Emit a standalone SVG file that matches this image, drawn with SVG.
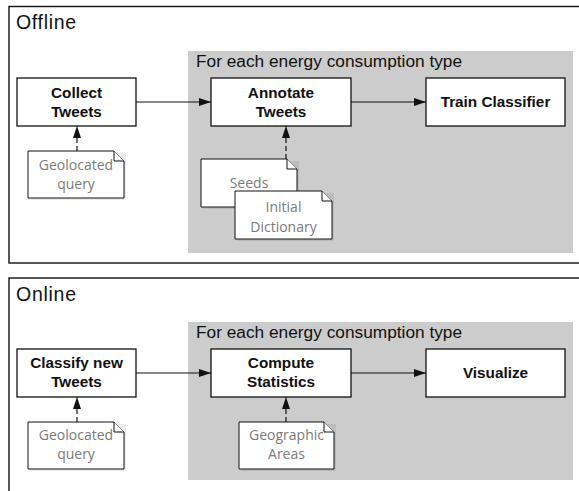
<svg xmlns="http://www.w3.org/2000/svg" width="579" height="491" viewBox="0 0 579 491">
<defs>
<style>
.panel{fill:#fff;stroke:#111;stroke-width:1.4}
.region{fill:#cccccc;stroke:none}
.ptitle{font-family:"Liberation Sans",Arial,sans-serif;font-size:19.5px;fill:#111}
.rtitle{font-family:"Liberation Sans",Arial,sans-serif;font-size:17.3px;fill:#111}
.box{fill:#fff;stroke:#111;stroke-width:1.3}
.lbl{font-family:"Liberation Sans",Arial,sans-serif;font-size:15.3px;font-weight:bold;fill:#111;text-anchor:middle}
.note{fill:#fff;stroke:#111;stroke-width:1}
.shadow{fill:#000;opacity:0.08;stroke:none}
.ntxt{font-family:"Open Sans",sans-serif;font-size:14px;fill:#7a7a7a;text-anchor:middle}
.edge{stroke:#111;stroke-width:1.2;fill:none}
.dash{stroke:#111;stroke-width:1.2;fill:none;stroke-dasharray:5,3}
</style>
<marker id="ah" viewBox="0 0 12 8" refX="12" refY="4" markerWidth="12" markerHeight="8" markerUnits="userSpaceOnUse" orient="auto">
<path d="M0,0 L12,4 L0,8 Z" fill="#111"/>
</marker>
</defs>

<g id="offline-panel">
<rect class="panel" x="9" y="6.5" width="580" height="256.5"/>
<text class="ptitle" x="16" y="29" textLength="60">Offline</text>
</g>
<g id="offline-region">
<rect class="region" x="188" y="51" width="385" height="202"/>
<text class="rtitle" x="196" y="67">For each energy consumption type</text>
</g>

<g id="online-panel">
<rect class="panel" x="9" y="278" width="580" height="220"/>
<text class="ptitle" x="16" y="301" textLength="60">Online</text>
</g>
<g id="online-region">
<rect class="region" x="188" y="322" width="385" height="158"/>
<text class="rtitle" x="196" y="338">For each energy consumption type</text>
</g>

<g id="connectors">
<line class="edge" x1="136" y1="102" x2="211" y2="102" marker-end="url(#ah)"/>
<line class="edge" x1="351" y1="102" x2="426" y2="102" marker-end="url(#ah)"/>
<line class="dash" x1="77" y1="151" x2="77" y2="126" marker-end="url(#ah)"/>
<line class="dash" x1="286" y1="159" x2="286" y2="126" marker-end="url(#ah)"/>
<line class="edge" x1="136" y1="373" x2="211" y2="373" marker-end="url(#ah)"/>
<line class="edge" x1="351" y1="373" x2="426" y2="373" marker-end="url(#ah)"/>
<line class="dash" x1="77" y1="422" x2="77" y2="397" marker-end="url(#ah)"/>
<line class="dash" x1="286" y1="422" x2="286" y2="397" marker-end="url(#ah)"/>
</g>

<g id="collect-tweets">
<rect class="box" x="17" y="78" width="119" height="48"/>
<text class="lbl" x="76.5" y="98">Collect</text>
<text class="lbl" x="76.5" y="117">Tweets</text>
</g>
<g id="annotate-tweets">
<rect class="box" x="211" y="78" width="140" height="48"/>
<text class="lbl" x="281" y="98">Annotate</text>
<text class="lbl" x="281" y="117">Tweets</text>
</g>
<g id="train-classifier">
<rect class="box" x="426" y="78" width="139" height="48"/>
<text class="lbl" x="495.5" y="107">Train Classifier</text>
</g>

<g id="geo-query-1">
<rect class="shadow" x="30" y="153" width="96" height="47"/>
<path class="note" d="M28,151 H114 L124,161 V198 H28 Z"/>
<path class="note" d="M114,151 V161 H124"/>
<text class="ntxt" x="76" y="170">Geolocated</text>
<text class="ntxt" x="76" y="189">query</text>
</g>
<g id="seeds">
<rect class="shadow" x="203" y="161" width="96" height="48"/>
<path class="note" d="M201,159 H287 L297,169 V207 H201 Z"/>
<path class="note" d="M287,159 V169 H297"/>
<text class="ntxt" x="249" y="188">Seeds</text>
</g>
<g id="initial-dictionary">
<rect class="shadow" x="237" y="193" width="97" height="48"/>
<path class="note" d="M235,191 H322 L332,201 V239 H235 Z"/>
<path class="note" d="M322,191 V201 H332"/>
<text class="ntxt" x="283.5" y="212">Initial</text>
<text class="ntxt" x="283.5" y="232">Dictionary</text>
</g>

<g id="classify-new-tweets">
<rect class="box" x="17" y="349" width="119" height="48"/>
<text class="lbl" x="76.5" y="368">Classify new</text>
<text class="lbl" x="76.5" y="387">Tweets</text>
</g>
<g id="compute-statistics">
<rect class="box" x="211" y="349" width="140" height="48"/>
<text class="lbl" x="281" y="368">Compute</text>
<text class="lbl" x="281" y="387">Statistics</text>
</g>
<g id="visualize">
<rect class="box" x="426" y="349" width="139" height="48"/>
<text class="lbl" x="495.5" y="378">Visualize</text>
</g>

<g id="geo-query-2">
<rect class="shadow" x="30" y="424" width="96" height="47"/>
<path class="note" d="M28,422 H114 L124,432 V469 H28 Z"/>
<path class="note" d="M114,422 V432 H124"/>
<text class="ntxt" x="76" y="440">Geolocated</text>
<text class="ntxt" x="76" y="459">query</text>
</g>
<g id="geographic-areas">
<rect class="shadow" x="241" y="424" width="95" height="47"/>
<path class="note" d="M239,422 H324 L334,432 V469 H239 Z"/>
<path class="note" d="M324,422 V432 H334"/>
<text class="ntxt" x="286.5" y="440">Geographic</text>
<text class="ntxt" x="286.5" y="459">Areas</text>
</g>
</svg>
